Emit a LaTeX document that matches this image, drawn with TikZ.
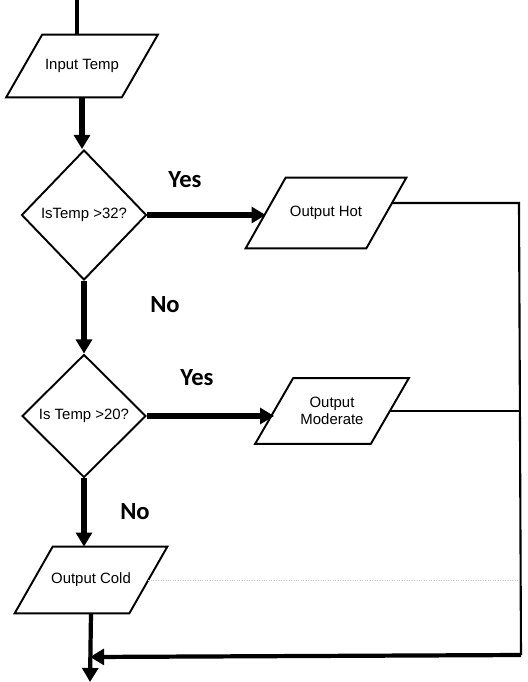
\documentclass[tikz,border=0pt]{standalone}
\usepackage{fontspec}
\setmainfont{Liberation Sans}
\newfontfamily\labelfont{Carlito}
\usetikzlibrary{shapes.geometric,arrows.meta,calc}

\tikzset{
    io/.style={rectangle, inner sep=0pt, font=\fontsize{8.5}{10}\selectfont, align=center},
    decision/.style={draw, line width=1.1pt, diamond, inner sep=0pt, font=\fontsize{8.5}{10}\selectfont},
    flow/.style={line width=3pt, -{Triangle[length=8pt,width=9pt]}},
    back/.style={line width=1.2pt},
    answer/.style={font=\labelfont\bfseries\fontsize{14}{16}\selectfont}
}

\begin{document}
\begin{tikzpicture}
        \useasboundingbox (0,0) rectangle (10.56,-13.64);
        % shapes
        \node[io, minimum width=2.3cm, minimum height=1.24cm] (input) at (1.64,-1.32) {Input Temp};
        \node[decision, minimum width=2.5cm, minimum height=2.6cm] (d1) at (1.68,-4.3) {IsTemp >32?};
        \node[io, minimum width=2.4cm, minimum height=1.4cm] (hot) at (6.52,-4.26) {Output Hot};
        \node[decision, minimum width=2.48cm, minimum height=2.46cm] (d2) at (1.68,-8.32) {Is Temp >20?};
        \node[io, minimum width=2.3cm, minimum height=1.3cm] (mod) at (6.64,-8.22) {Output\\Moderate};
        \node[io, minimum width=2.28cm, minimum height=1.32cm] (cold) at (1.82,-11.6) {Output Cold};
        % slanted outlines of the in/out boxes
        \foreach \n/\o in {input/0.36, hot/0.4, mod/0.38, cold/0.38} {
                \draw[line width=1.1pt] ($(\n.north west)+(\o,0)$) -- ($(\n.north east)+(\o,0)$)
                    -- ($(\n.south east)-(\o,0)$) -- ($(\n.south west)-(\o,0)$) -- cycle;
            }
        % labels
        \node[answer] (yes1) at (3.7,-3.6) {Yes};
        \node[answer] (yes2) at (3.94,-7.56) {Yes};
        \node[answer] (no1) at (3.3,-6.1) {No};
        \node[answer] (no2) at (2.7,-10.24) {No};
        % helper points
        \coordinate (intop) at ($(input.north)+(-0.1,0)$);
        \coordinate (start) at (intop |- 0,0);
        \coordinate (rtop) at (10.38,-4.06);
        \coordinate (rbot) at (10.42,-13.1);
        \coordinate (join) at (1.8,-13.14);
        \coordinate (stop) at (1.8,-13.64);
        % connectors
        \draw[line width=2pt] (start) -- (intop);
        \draw[flow] (input.south) -- (input.south |- d1.north);
        \draw[flow] (d1.east) -- (d1.east -| hot.west);
        \draw[flow] (d1.south) -- (d2.north);
        \draw[flow] (d2.east) -- (d2.east -| mod.west);
        \draw[flow] (d2.south) -- (d2.south |- cold.north);
        \draw[back] ($(hot.east)+(0.12,0.2)$) -- (rtop) -- (rbot);
        \draw[back] (mod.east) -- (mod.east -| rtop);
        \draw[gray!45, line width=0.4pt, densely dotted] (cold.east) -- (cold.east -| rtop);
        \draw[line width=2.4pt, -{Triangle[length=8pt,width=9pt]}] (rbot) -- (join);
        \draw[line width=2.4pt, -{Triangle[length=8pt,width=9pt]}] (cold.south) -- (stop);
    \end{tikzpicture}
\end{document}
